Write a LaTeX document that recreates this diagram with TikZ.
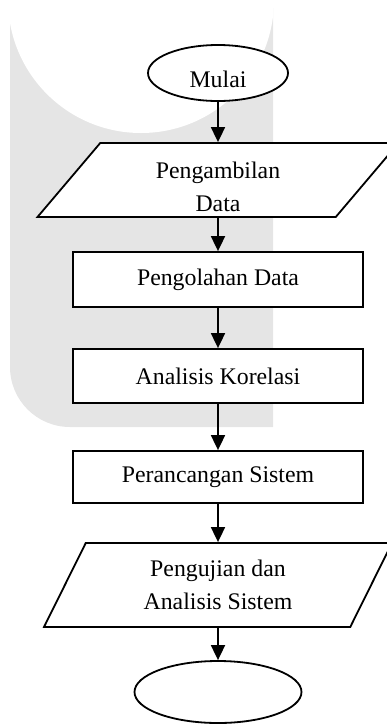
\documentclass[tikz,border=0pt]{standalone}
\usepackage{fontspec}
\setmainfont{Liberation Serif}
\usepackage{tikz}
\usetikzlibrary{positioning,shapes,arrows.meta}

\begin{document}
\begin{tikzpicture}[x=1pt,y=-1pt,
			every node/.style = {draw, fill=white, line width=1.8pt, align=center, inner sep=0pt,
				font=\fontsize{23.8}{33}\selectfont},
			terminal/.style = {shape=ellipse},
			proses/.style = {shape=rectangle, minimum width=290pt},
			masukan/.style = {shape=trapezium, trapezium stretches body,
				trapezium left angle=45, trapezium right angle=135},
			panah/.style = {line width=1.8pt, -{Triangle[width=14pt,length=15pt]}}]
			\useasboundingbox (0,0) rectangle (387,724);
			% watermark
			\fill[black!10] (273,8) -- (10,8) -- (10,367)
				arc[start angle=180, end angle=90, radius=60] -- (273,427) -- cycle;
			\begin{scope}
				\clip (10,8) rectangle (273,427);
				\fill[white] (141,0) circle[radius=133];
			\end{scope}
			\node[terminal, minimum width=140pt, minimum height=56pt, text height=30pt] (mulai) at (218,73) {Mulai};
			\node[masukan, minimum width=361pt, minimum height=74pt, text height=62.5pt] (ambil) at (218,180) {Pengambilan\\Data};
			\node[proses, minimum height=55pt] (olah) at (218,279.5) {Pengolahan Data};
			\node[proses, minimum height=54pt] (korelasi) at (218,376) {Analisis Korelasi};
			\node[proses, minimum height=52pt] (rancang) at (218,477) {Perancangan Sistem};
			\node[masukan, trapezium left angle=50, trapezium right angle=130,
				minimum width=348pt, minimum height=84pt] (uji) at (218,585) {Pengujian dan\\Analisis Sistem};
			\node[terminal, minimum width=167pt, minimum height=62pt] (selesai) at (218,692) {};
			\draw[panah] (mulai) -- (ambil);
			\draw[panah] (ambil) -- (olah);
			\draw[panah] (olah) -- (korelasi);
			\draw[panah] (korelasi) -- (rancang);
			\draw[panah] (rancang) -- (uji);
			\draw[panah] (uji) -- (selesai);
\end{tikzpicture}
\end{document}
